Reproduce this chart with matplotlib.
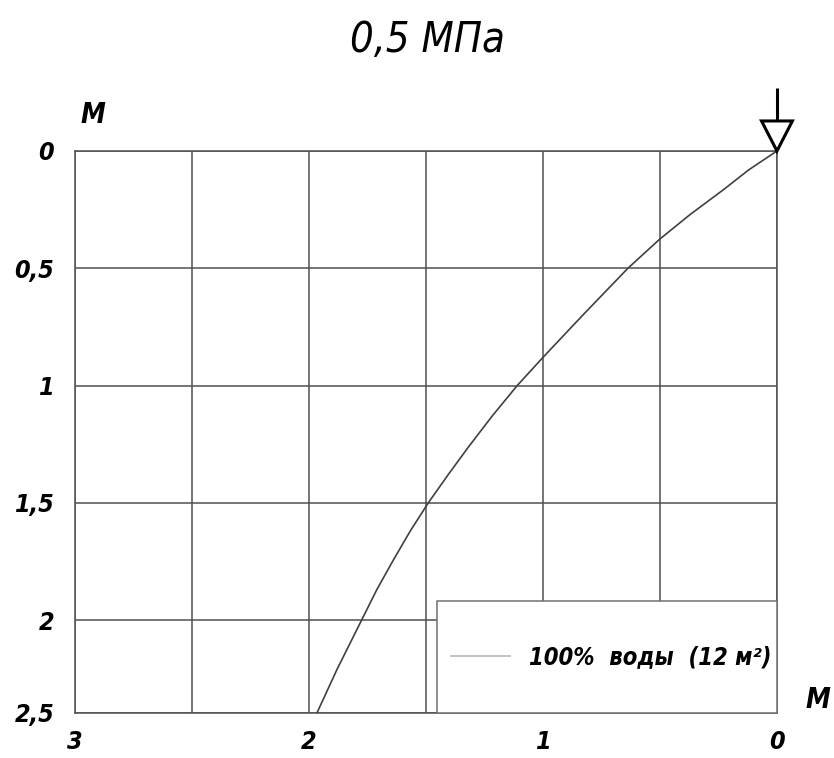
import matplotlib
matplotlib.use("Agg")
import matplotlib.pyplot as plt
from matplotlib.lines import Line2D
from matplotlib.patches import Rectangle, Polygon

# Curve: horizontal distance (m) vs depth (m)
width_m = [0, 0.12, 0.23, 0.37, 0.5, 0.637, 0.83, 1.0, 1.11, 1.217, 1.32,
           1.405, 1.49, 1.567, 1.64, 1.71, 1.775, 1.88, 1.966]
depth_m = [0, 0.08, 0.166, 0.27, 0.375, 0.5, 0.7, 0.88, 1.0, 1.13, 1.264,
           1.38, 1.5, 1.62, 1.745, 1.87, 2.0, 2.21, 2.396]

x_ticks = [0, 1, 2, 3]
x_minor = [0.5, 1.5, 2.5]
y_ticks = [0, 0.5, 1, 1.5, 2, 2.396]
y_labels = ["0", "0,5", "1", "1,5", "2", "2,5"]

title = "0,5 МПа"
legend_label = "100%  воды  (12 м²)"

plt.rcParams['font.family'] = ['DejaVu Sans']
plt.rcParams['font.style'] = 'italic'
plt.rcParams['font.stretch'] = 'condensed'

grid_col = '#505050'

fig = plt.figure(figsize=(8.34, 7.58), dpi=100)
ax = fig.add_axes([0.0899, 0.0594, 0.8417, 0.7414])

ax.plot(width_m, depth_m, color='#404040', lw=1.2, zorder=3)

ax.set_xlim(3, 0)
ax.set_ylim(2.396, 0)
ax.set_xticks(x_ticks)
ax.set_xticklabels([str(v) for v in x_ticks], fontweight='bold')
ax.set_xticks(x_minor, minor=True)
ax.set_yticks(y_ticks)
ax.set_yticklabels(y_labels, fontweight='bold')
ax.grid(True, which='both', color=grid_col, lw=1.1)
ax.set_axisbelow(True)
ax.tick_params(which='both', length=0)
ax.tick_params(axis='x', pad=12, labelsize=18)
ax.tick_params(axis='y', pad=15, labelsize=18)
for s in ax.spines.values():
    s.set_color(grid_col)
    s.set_linewidth(1.1)

# legend box
ax.add_patch(Rectangle((0.516, 0), 0.484, 0.199, transform=ax.transAxes,
                       facecolor='white', edgecolor='#707070', lw=1.1,
                       zorder=4, clip_on=False))
handle = Line2D([], [], color='#b8b8b8', lw=1.2)
leg = ax.legend([handle], [legend_label], loc='center left',
                bbox_to_anchor=(0.505, 0.1), frameon=False,
                prop={'size': 17, 'weight': 'bold'},
                handlelength=2.5, handletextpad=0.8)
leg.set_zorder(5)

# load arrow at origin
ax.plot([0, 0], [-0.128, -0.269], color='black', lw=2.2, clip_on=False,
        solid_capstyle='butt')
ax.add_patch(Polygon([(-0.066, -0.128), (0.066, -0.128), (0, 0)], closed=True,
                     facecolor='white', edgecolor='black', lw=2.2,
                     clip_on=False, zorder=6))

fig.text(427 / 834, 1 - 40 / 758, title, ha='center', va='center', fontsize=30)
fig.text(93 / 834, 1 - 115 / 758, "М", ha='center', va='center', fontsize=20,
         fontweight='bold')
fig.text(818 / 834, 1 - 700 / 758, "М", ha='center', va='center', fontsize=20,
         fontweight='bold')

fig.savefig("out.png", dpi=100)
